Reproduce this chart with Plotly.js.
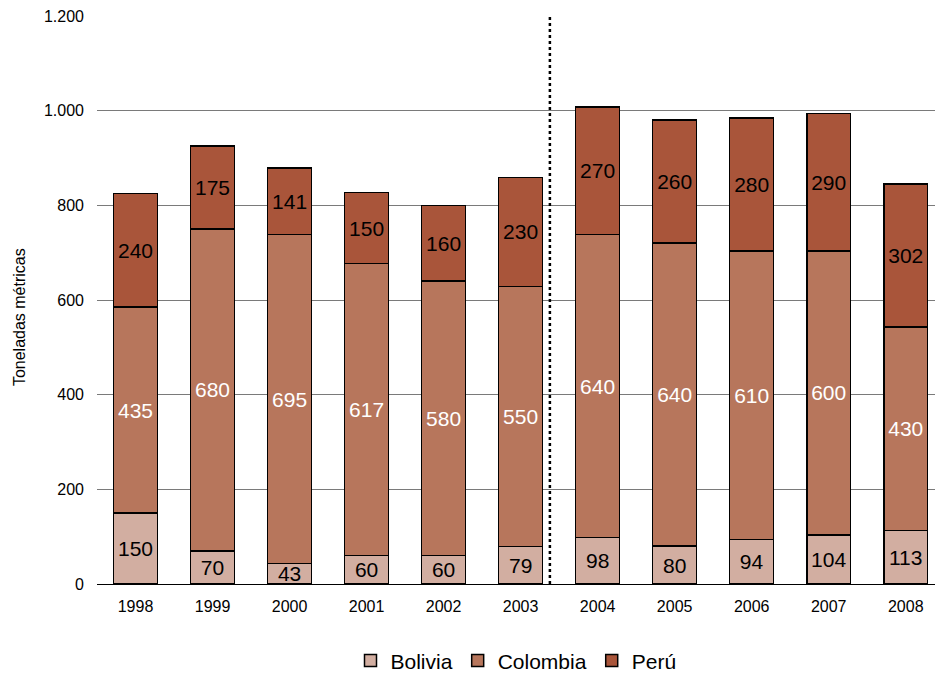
<!DOCTYPE html>
<html><head><meta charset="utf-8">
<script src="https://cdn.plot.ly/plotly-3.0.1.min.js"></script>
<style>body{margin:0;padding:0;}#chart{width:935px;height:675px;}</style>
</head><body><div id="chart"></div>
<script>
const years = ['1998','1999','2000','2001','2002','2003','2004','2005','2006','2007','2008'];
const bolivia = [150,70,43,60,60,79,98,80,94,104,113];
const colombia = [435,680,695,617,580,550,640,640,610,600,430];
const peru = [240,175,141,150,160,230,270,260,280,290,302];
const tickVals = [0,200,400,600,800,1000,1200];

function tr(name, y, color, txtColor){
  return {type:'bar', name:name, x:years, y:y, text:y.map(String),
    textposition:'inside', insidetextanchor:'middle', constraintext:'none',
    textfont:{family:'Liberation Sans, Arial', size:21, color:txtColor},
    marker:{color:color, line:{color:'#000', width:1.5}}, hoverinfo:'skip'};
}
const data = [tr('Bolivia', bolivia, '#D2AEA1', '#000'), tr('Colombia', colombia, '#B7765C', '#fff'), tr('Perú', peru, '#A9553A', '#000')];
const layout = {
  width:935, height:675, barmode:'stack', bargap:0.43,
  separators:',.',
  font:{family:'Liberation Sans, Arial', size:16, color:'#000'},
  margin:{l:97, r:0, t:16, b:91},
  paper_bgcolor:'#fff', plot_bgcolor:'#fff',
  xaxis:{type:'category', range:[-0.5,10.38], showline:true, linecolor:'#000', linewidth:1,
    ticks:'', tickfont:{size:16}, ticklabelstandoff:8, fixedrange:true},
  yaxis:{range:[0,1200], tickvals:tickVals, separatethousands:true, tickformat:',d',
    showgrid:true, gridcolor:'#7a7a7a', gridwidth:1, zeroline:false, ticks:'', ticklabelstandoff:12,
    tickfont:{size:16}},
  annotations:[{text:'Toneladas métricas', xref:'paper', yref:'paper', x:-0.093, y:0.47, xanchor:'center', yanchor:'middle',
    textangle:-90, showarrow:false, font:{size:16}}],
  legend:{orientation:'h', x:0.5, xanchor:'center', yref:'container', y:0.021, yanchor:'middle', font:{size:21}, traceorder:'normal'},
  shapes:[{type:'line', xref:'x', yref:'paper', x0:5.38, x1:5.38, y0:0, y1:1, line:{color:'#000', width:2.5, dash:'dot'}}],
  showlegend:true
};
Plotly.newPlot('chart', data, layout, {displayModeBar:false, staticPlot:true});
</script></body></html>
